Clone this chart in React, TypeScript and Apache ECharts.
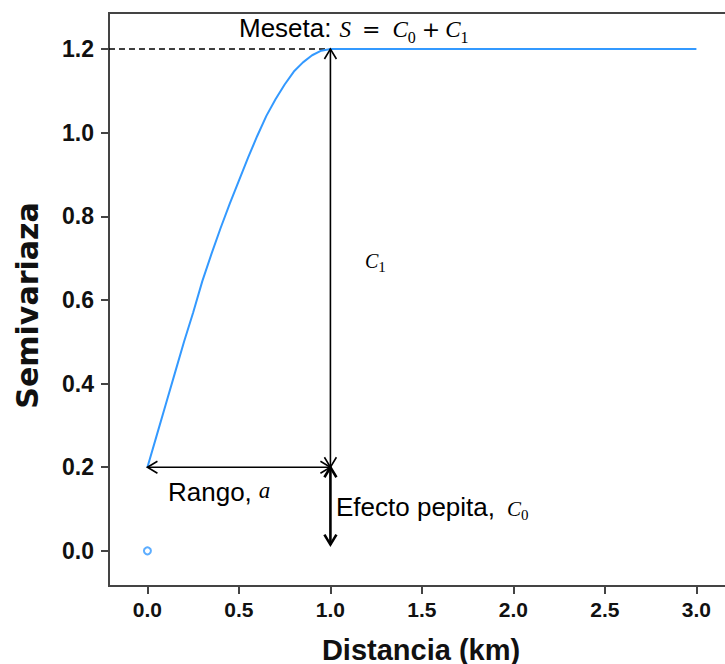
import React, { useEffect, useRef } from "react";
import * as echarts from "echarts";

// Variogram curve (distance in km, semivariance)
const distance = [0, 0.05, 0.1, 0.15, 0.2, 0.25, 0.3, 0.35, 0.4, 0.45, 0.5, 0.55, 0.6, 0.65, 0.7, 0.75, 0.8, 0.85, 0.9, 0.95, 1.0, 3.0];
const semivariance = [0.2, 0.275, 0.35, 0.425, 0.5, 0.57, 0.645, 0.71, 0.772, 0.83, 0.885, 0.94, 0.992, 1.04, 1.08, 1.115, 1.146, 1.168, 1.185, 1.196, 1.2, 1.2];

// Observed point at the origin
const originX = [0];
const originY = [0];

// Key parameters
const nugget = 0.2;
const sill = 1.2;
const range = 1.0;
const arrowBottom = 0.015;

// Axis ticks
const xTicks = [0, 0.5, 1.0, 1.5, 2.0, 2.5, 3.0];
const yTicks = [0, 0.2, 0.4, 0.6, 0.8, 1.0, 1.2];
const xMin = -0.21;
const xMax = 3.2;
const yMin = -0.084;
const yMax = 1.286;

// Annotation arrows [from x, from y, to x, to y]
const arrowFromX = [range, 0, range];
const arrowFromY = [sill, nugget, nugget];
const arrowToX = [range, range, range];
const arrowToY = [nugget, nugget, arrowBottom];
const arrowLineWidths = [1.6, 1.6, 2.6];

const BLUE = "#3399ff";
const MATH = "'Liberation Serif', 'DejaVu Serif', serif";
const OPS = "'DejaVu Sans', sans-serif";
const SANS = "'Liberation Sans', Arial, sans-serif";

export default function App() {
  const ref = useRef<HTMLDivElement>(null);

  useEffect(() => {
    if (!ref.current) return;
    const chart = echarts.init(ref.current, undefined, { renderer: "svg" });

    const curve = distance.map((d, i) => [d, semivariance[i]]);
    const origin = originX.map((x, i) => [x, originY[i]]);
    const guide = [[xMin, sill], [range, sill]];
    const arrows = arrowFromX.map((x, i) => [x, arrowFromY[i], arrowToX[i], arrowToY[i]]);

    const it = (size: number, pt: number, pl = 0, pr = 0) => ({
      fontFamily: MATH,
      fontStyle: "italic",
      fontSize: size,
      color: "#000",
      verticalAlign: "top",
      padding: [pt, pr, 0, pl],
    });
    const up = (family: string, size: number, pt: number, pl = 0, pr = 0) => ({
      fontFamily: family,
      fontSize: size,
      color: "#000",
      verticalAlign: "top",
      padding: [pt, pr, 0, pl],
    });

    const rich = {
      t: { fontFamily: SANS, fontSize: 26, color: "#000" },
      // Meseta line
      mS: it(23, 5, 8, 0),
      mC: it(23, 5),
      eq: up(OPS, 22, 5, 11, 12),
      pl: up(OPS, 22, 5, 6, 5),
      s16: up(MATH, 16, 16),
      // C1 label
      c1: it(20, 5),
      s15a: up(MATH, 15, 13),
      // Rango
      ra: it(23, 2, 7, 0),
      // Efecto pepita
      ec: it(21, 6, 12, 0),
      s15: up(MATH, 15, 15),
    };

    const txt = (x: number, y: number, text: string) => ({
      type: "text",
      x,
      y,
      z: 10,
      style: {
        text,
        rich,
        lineHeight: 30,
        align: "left",
        textAlign: "left",
        verticalAlign: "middle",
        textVerticalAlign: "middle",
        fill: "#000",
      },
    });

    chart.setOption({
      animation: false,
      backgroundColor: "#fff",
      grid: {
        left: 109,
        top: 13,
        width: 624,
        height: 573,
        show: true,
        borderColor: "#444",
        borderWidth: 2,
        backgroundColor: "transparent",
        containLabel: false,
        outerBoundsMode: "none",
      },
      xAxis: {
        type: "value",
        min: xMin,
        max: xMax,
        name: "Distancia (km)",
        nameLocation: "middle",
        nameGap: 49,
        nameTextStyle: { fontFamily: SANS, fontWeight: "bold", fontSize: 29, color: "#111" },
        axisLine: { show: true, onZero: false, lineStyle: { color: "#444", width: 2 } },
        axisTick: { show: true, length: 8, customValues: xTicks, lineStyle: { color: "#444", width: 2 } },
        axisLabel: {
          customValues: xTicks,
          margin: 13,
          fontFamily: SANS,
          fontWeight: "bold",
          fontSize: 21,
          color: "#111",
          formatter: (v: number) => v.toFixed(1),
        },
        splitLine: { show: false },
      },
      yAxis: {
        type: "value",
        min: yMin,
        max: yMax,
        name: "Semivariaza",
        nameLocation: "middle",
        nameGap: 67,
        nameTextStyle: {
          fontFamily: "'DejaVu Sans', sans-serif",
          fontWeight: "bold",
          fontSize: 30,
          color: "#111",
          padding: [0, 12, 0, 0],
        },
        axisLine: { show: true, onZero: false, lineStyle: { color: "#444", width: 2 } },
        axisTick: { show: true, length: 8, customValues: yTicks, lineStyle: { color: "#444", width: 2 } },
        axisLabel: {
          customValues: yTicks,
          margin: 15,
          fontFamily: SANS,
          fontWeight: "bold",
          fontSize: 23,
          color: "#111",
          formatter: (v: number) => v.toFixed(1),
        },
        splitLine: { show: false },
      },
      series: [
        {
          type: "line",
          data: guide,
          symbol: "none",
          lineStyle: { color: "#000", width: 1.5, type: [6, 4] },
          z: 2,
        },
        {
          type: "line",
          data: curve,
          symbol: "none",
          smooth: false,
          lineStyle: { color: BLUE, width: 2 },
          z: 3,
        },
        {
          type: "scatter",
          data: origin,
          symbol: "emptyCircle",
          symbolSize: 7,
          itemStyle: { color: BLUE, borderColor: BLUE, borderWidth: 1.6 },
          z: 3,
        },
        {
          type: "custom",
          data: arrows,
          encode: { x: [0, 2], y: [1, 3] },
          z: 5,
          renderItem: (params: any, api: any) => {
            const lw = arrowLineWidths[params.dataIndex];
            const p1 = api.coord([api.value(0), api.value(1)]);
            const p2 = api.coord([api.value(2), api.value(3)]);
            const dx = p2[0] - p1[0];
            const dy = p2[1] - p1[1];
            const len = Math.hypot(dx, dy) || 1;
            const ux = dx / len;
            const uy = dy / len;
            const nx = -uy;
            const ny = ux;
            const L = 10;
            const W = 6;
            const head = (tip: number[], dir: number) => ({
              type: "polyline",
              shape: {
                points: [
                  [tip[0] - dir * ux * L + nx * W, tip[1] - dir * uy * L + ny * W],
                  [tip[0], tip[1]],
                  [tip[0] - dir * ux * L - nx * W, tip[1] - dir * uy * L - ny * W],
                ],
              },
              style: { stroke: "#000", fill: null, lineWidth: lw },
            });
            return {
              type: "group",
              children: [
                {
                  type: "line",
                  shape: { x1: p1[0], y1: p1[1], x2: p2[0], y2: p2[1] },
                  style: { stroke: "#000", lineWidth: lw },
                },
                head(p2, 1),
                head(p1, -1),
              ],
            };
          },
        },
      ],
      graphic: [
        txt(239, 28, "{t|Meseta:}{mS|S}{eq|=}{mC|C}{s16|0}{pl|+}{mC|C}{s16|1}"),
        txt(365, 261, "{c1|C}{s15a|1}"),
        txt(168, 492, "{t|Rango,}{ra|a}"),
        txt(336, 507, "{t|Efecto pepita,}{ec|C}{s15|0}"),
      ],
    });

    return () => chart.dispose();
  }, []);

  return (
    <div
      ref={ref}
      style={{ position: "fixed", left: 0, top: 0, width: 725, height: 664, background: "#fff" }}
    />
  );
}
